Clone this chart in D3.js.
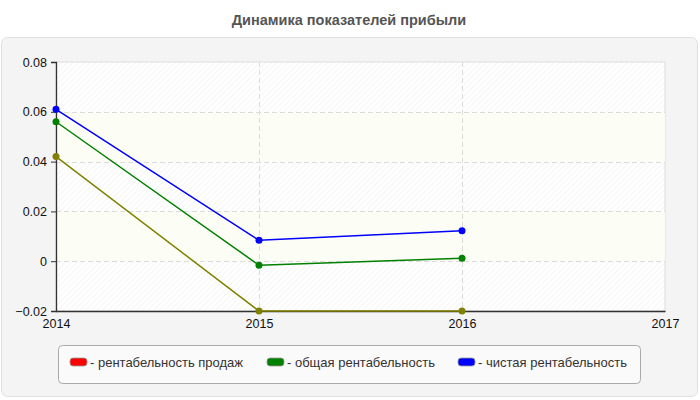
<!DOCTYPE html>
<html>
<head>
<meta charset="utf-8">
<script src="https://cdn.jsdelivr.net/npm/d3@7"></script>
<style>
  body { margin: 0; background: #fff; }
  svg { display: block; font-family: 'Liberation Sans', Arial, sans-serif; }
</style>
</head>
<body>
<svg id="chart" width="700" height="400"></svg>
<script>
/* global d3 */
const years = [2014, 2015, 2016]
const salesProfit = [0.042, -0.02, -0.02]
const totalProfit = [0.056, -0.0016, 0.0012]
const netProfit = [0.061, 0.0084, 0.0122]
const yTicks = [-0.02, 0, 0.02, 0.04, 0.06, 0.08]
const xTicks = [2014, 2015, 2016, 2017]

const series = [
  { name: 'рентабельность продаж', values: salesProfit, color: '#808000', swatch: '#ff0000' },
  { name: 'общая рентабельность', values: totalProfit, color: '#008000', swatch: '#008000' },
  { name: 'чистая рентабельность', values: netProfit, color: '#0000ff', swatch: '#0000ff' }
]

const svg = d3.select('#chart')
const margin = { top: 62, right: 35, bottom: 89, left: 56 }
const width = 700 - margin.left - margin.right
const height = 400 - margin.top - margin.bottom

// title
svg.append('text')
  .attr('x', 349).attr('y', 25)
  .attr('text-anchor', 'middle')
  .style('font-weight', 'bold')
  .style('font-size', '14.5px')
  .style('fill', '#555')
  .text('Динамика показателей прибыли')

// outer panel
svg.append('rect')
  .attr('x', 1.5).attr('y', 37.5)
  .attr('width', 696).attr('height', 359)
  .attr('rx', 6)
  .style('fill', '#f4f4f4')
  .style('stroke', '#e0e0e0')

const defs = svg.append('defs')
const hatch = defs.append('pattern')
  .attr('id', 'hatch')
  .attr('patternUnits', 'userSpaceOnUse')
  .attr('width', 4).attr('height', 4)
  .attr('patternTransform', 'rotate(45)')
hatch.append('rect').attr('width', 4).attr('height', 4).style('fill', '#fff')
hatch.append('line')
  .attr('x1', 0).attr('y1', 0).attr('x2', 0).attr('y2', 4)
  .style('stroke', '#ececec').style('stroke-width', 1)

const g = svg.append('g').attr('transform', `translate(${margin.left},${margin.top})`)

const x = d3.scaleLinear().domain([2014, 2017]).range([0, width])
const y = d3.scaleLinear().domain([-0.02, 0.08]).range([height, 0])

g.append('rect')
  .attr('width', width).attr('height', height)
  .style('fill', 'url(#hatch)')
  .style('stroke', '#ddd')

// alternating tinted bands
const bands = [[0.04, 0.06], [0, 0.02]]
g.selectAll('.band').data(bands).join('rect')
  .attr('class', 'band')
  .attr('x', 0).attr('width', width)
  .attr('y', d => y(d[1])).attr('height', d => y(d[0]) - y(d[1]))
  .style('fill', '#fcfdf3').style('opacity', 0.9)

// grid
g.selectAll('.hgrid').data(yTicks.slice(1, -1)).join('line')
  .attr('class', 'hgrid')
  .attr('x1', 0).attr('x2', width)
  .attr('y1', d => Math.round(y(d)) + 0.5).attr('y2', d => Math.round(y(d)) + 0.5)
  .style('stroke', '#dcdcdc').style('stroke-dasharray', '5,3')
g.selectAll('.vgrid').data(xTicks.slice(1, -1)).join('line')
  .attr('class', 'vgrid')
  .attr('y1', 0).attr('y2', height)
  .attr('x1', d => Math.round(x(d)) + 0.5).attr('x2', d => Math.round(x(d)) + 0.5)
  .style('stroke', '#dcdcdc').style('stroke-dasharray', '5,3')

// axes
const yAxis = d3.axisLeft(y).tickValues(yTicks).tickSize(5).tickPadding(4)
  .tickFormat(d => d === 0 ? '0' : d3.format('.2f')(d))
const xAxis = d3.axisBottom(x).tickValues(xTicks).tickSize(0).tickPadding(8)
  .tickFormat(d3.format('d'))

const ya = g.append('g').call(yAxis)
const xa = g.append('g').attr('transform', `translate(0,${height})`).call(xAxis)
;[ya, xa].forEach(a => {
  a.selectAll('text').style('font-size', '12.5px').style('fill', '#111')
    .style('font-family', "'Liberation Sans', Arial, sans-serif")
  a.select('.domain').style('stroke', '#333').style('stroke-width', 1.3)
  a.selectAll('.tick line').style('stroke', '#333')
})

// lines
const line = d3.line()
  .x((d, i) => x(years[i]))
  .y(d => y(d))

series.forEach(s => {
  g.append('path')
    .datum(s.values)
    .attr('d', line)
    .style('fill', 'none')
    .style('stroke', s.color)
    .style('stroke-width', 1.5)
  g.selectAll(null).data(s.values).join('circle')
    .attr('cx', (d, i) => x(years[i]))
    .attr('cy', d => y(d))
    .attr('r', 3.5)
    .style('fill', s.color)
})

// legend
const legend = svg.append('g')
legend.append('rect')
  .attr('x', 58.5).attr('y', 345.5)
  .attr('width', 582).attr('height', 38)
  .attr('rx', 4)
  .style('fill', '#fafafa')
  .style('stroke', '#aaa')

const legendX = [70, 267, 458]
series.forEach((s, i) => {
  const item = legend.append('g').attr('transform', `translate(${legendX[i]},362)`)
  item.append('rect')
    .attr('x', 0).attr('y', -4).attr('width', 17).attr('height', 8)
    .attr('rx', 3)
    .style('fill', s.swatch)
    .style('stroke', '#999').style('stroke-width', 0.8)
  item.append('text')
    .attr('x', 20).attr('y', 4.5)
    .style('font-size', '13px')
    .style('fill', '#333')
    .text('- ' + s.name)
})
</script>
</body>
</html>
